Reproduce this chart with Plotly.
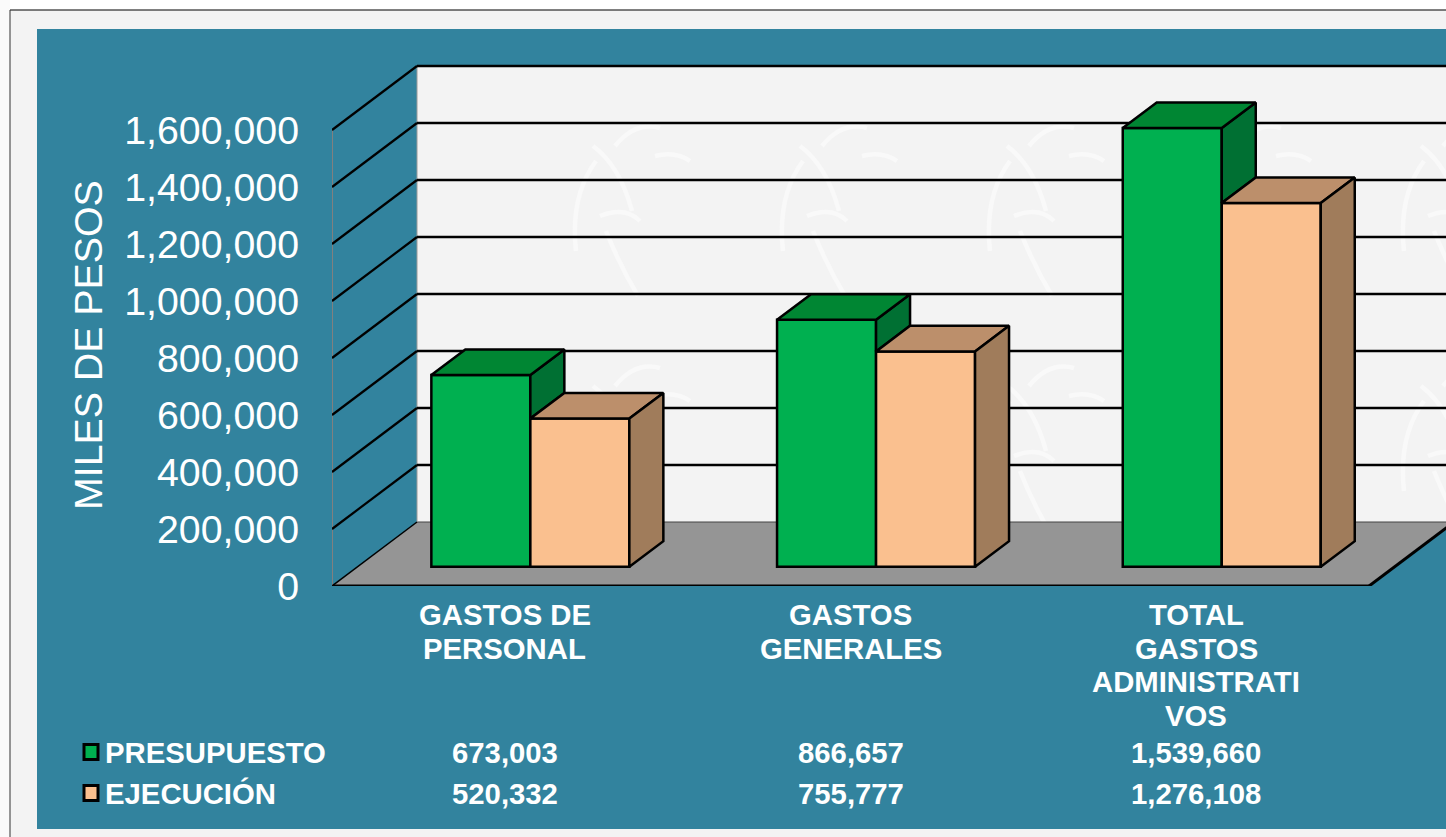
import plotly.graph_objects as go

categories = [["GASTOS DE", "PERSONAL"], ["GASTOS", "GENERALES"], ["TOTAL", "GASTOS", "ADMINISTRATI", "VOS"]]
series_names = ["PRESUPUESTO", "EJECUCIÓN"]
presupuesto = [673003, 866657, 1539660]
ejecucion = [520332, 755777, 1276108]
y_ticks = [0, 200000, 400000, 600000, 800000, 1000000, 1200000, 1400000, 1600000]

FONT = "Liberation Sans"
TEAL = "#32839E"
BG = "#F3F3F3"
W, H = 1446, 837
L, T, B0 = 332, 60, 586
PX_U = 345.7
PX_V = 57 / 200000
DX = 85 / PX_U
DY = 64 / PX_V
D0, D1 = 0.30, 0.70
BAR_W = 99 / PX_U
MOTIF_X = [560, 767, 974, 1181, 1388]
MOTIF_Y = [96, 336]
MOTIF = [
    [(33, 50), (60, 70), (72, 115)],
    [(55, 50), (75, 25), (100, 32)],
    [(16, 155), (10, 100), (36, 65)],
    [(40, 120), (65, 110), (80, 125)],
    [(46, 135), (60, 170), (78, 200)],
    [(95, 60), (115, 55), (130, 65)],
]


def px(p):
    return (p - L) / (W - L)


def py(p):
    return (B0 - p) / (B0 - T)


def ax(p):
    return (p - L) / PX_U


def ay(p):
    return (B0 - p) / PX_V


def pt(u, v, d):
    return u + d * DX, v + d * DY


def rect(x0, y0, x1, y1, fill, line=None, lw=0):
    return dict(type="rect", xref="paper", yref="paper", x0=px(x0), x1=px(x1), y0=py(y0), y1=py(y1),
                fillcolor=fill, line=dict(color=line or fill, width=lw), layer="below")


def poly(points, fill, line="black", lw=2.5):
    xs = [p[0] for p in points] + [points[0][0]]
    ys = [p[1] for p in points] + [points[0][1]]
    return go.Scatter(x=xs, y=ys, mode="lines", fill="toself", fillcolor=fill,
                      line=dict(color=line, width=lw), hoverinfo="skip", showlegend=False)


n = len(categories)
shapes = [
    rect(0, 0, W, 10, "white"),
    rect(0, 0, 10, H, "#FAFAFA"),
    dict(type="line", xref="paper", yref="paper", x0=px(10), x1=px(W), y0=py(10), y1=py(10),
         line=dict(color="black", width=1), layer="below"),
    dict(type="line", xref="paper", yref="paper", x0=px(10), x1=px(10), y0=py(10), y1=py(H),
         line=dict(color="#333333", width=1), layer="below"),
    rect(37, 29, W, 829, TEAL),
]

# back wall
wx0, wy0 = pt(0, 0, 1)
wx1, wy1 = pt(n * 1.0, y_ticks[-1], 1)
shapes.append(dict(type="rect", xref="x", yref="y", x0=wx0, x1=wx1, y0=wy0, y1=wy1, fillcolor=BG,
                   line=dict(width=0), layer="below"))

# faint motif on the wall
for ox in MOTIF_X:
    for oy in MOTIF_Y:
        path = " ".join(
            f"M {ax(ox+a[0])} {ay(oy+a[1])} Q {ax(ox+b[0])} {ay(oy+b[1])} {ax(ox+c[0])} {ay(oy+c[1])}"
            for a, b, c in MOTIF)
        shapes.append(dict(type="path", xref="x", yref="y", path=path,
                           line=dict(color="#F9F9F9", width=4.5), layer="below"))

# floor
fx = [pt(0, 0, 0), pt(n, 0, 0), pt(n, 0, 1), pt(0, 0, 1)]
floor_path = "M " + " L ".join(f"{x} {y}" for x, y in fx) + " Z"
shapes.append(dict(type="path", xref="x", yref="y", path=floor_path, fillcolor="#959595", line=dict(width=0), layer="below"))
shapes.append(dict(type="line", xref="x", yref="y", x0=fx[3][0], y0=fx[3][1], x1=fx[2][0], y1=fx[2][1],
                   line=dict(color="#444444", width=1), layer="below"))
shapes.append(dict(type="line", xref="x", yref="y", x0=fx[0][0], y0=fx[0][1], x1=fx[1][0], y1=fx[1][1],
                   line=dict(color="black", width=3), layer="below"))
shapes.append(dict(type="line", xref="x", yref="y", x0=fx[1][0], y0=fx[1][1], x1=fx[2][0], y1=fx[2][1],
                   line=dict(color="black", width=3), layer="below"))

# left wall edge lines and grid
shapes.append(dict(type="line", xref="x", yref="y", x0=0, x1=0, y0=0, y1=y_ticks[-1],
                   line=dict(color="#808080", width=2), layer="below"))
shapes.append(dict(type="line", xref="x", yref="y", x0=wx0, x1=wx0, y0=wy0, y1=wy1,
                   line=dict(color="#9A9A9A", width=1), layer="below"))
for v in y_ticks:
    bx, by = pt(0, v, 1)
    shapes.append(dict(type="line", xref="x", yref="y", x0=0, y0=v, x1=bx, y1=by,
                       line=dict(color="black", width=2.2 if v else 1.5), layer="below"))
    if v:
        shapes.append(dict(type="line", xref="x", yref="y", x0=bx, y0=by, x1=pt(n, v, 1)[0], y1=by,
                           line=dict(color="black", width=2.5), layer="below"))

fig = go.Figure()
colors = [
    dict(front="#00B050", top="#008633", side="#007033"),
    dict(front="#FAC08F", top="#BC8F6B", side="#A07C5B"),
]
series = [presupuesto, ejecucion]
base_v = D0 * DY
for s, (vals, c) in enumerate(zip(series, colors)):
    xs = [i + 0.5 + D0 * DX + (s - 0.5) * BAR_W for i in range(n)]
    fig.add_trace(go.Bar(x=xs, y=vals, base=[base_v] * n, width=BAR_W, name=series_names[s],
                         marker=dict(color=c["front"], line=dict(color="black", width=2.5)),
                         hoverinfo="skip", showlegend=False))

for i in range(n):
    x_mid = i + 0.5
    ul, um, ur = x_mid - BAR_W, x_mid, x_mid + BAR_W
    v1, v2 = presupuesto[i], ejecucion[i]
    # green side, only the part above the orange bar
    fig.add_trace(poly([pt(um, v1, D0), pt(um, v1, D1), pt(um, v2, D1), pt(um, v2, D0)], colors[0]["side"]))
    fig.add_trace(poly([pt(ul, v1, D0), pt(um, v1, D0), pt(um, v1, D1), pt(ul, v1, D1)], colors[0]["top"]))
    fig.add_trace(poly([pt(um, v2, D0), pt(ur, v2, D0), pt(ur, v2, D1), pt(um, v2, D1)], colors[1]["top"]))
    fig.add_trace(poly([pt(ur, v2, D0), pt(ur, v2, D1), pt(ur, 0, D1), pt(ur, 0, D0)], colors[1]["side"]))

annotations = [dict(text="MILES DE PESOS", textangle=-90, xref="paper", yref="paper", x=px(88), y=py(345),
                    xanchor="center", yanchor="middle",
                    showarrow=False, font=dict(family=FONT, size=39.3, color="white"))]
line_y = [614, 648, 681, 715]
for i, lines in enumerate(categories):
    for j, t in enumerate(lines):
        annotations.append(dict(text=t, xref="x", yref="paper", x=i + 0.5, y=py(line_y[j]), showarrow=False,
                                xanchor="center", yanchor="middle",
                                font=dict(family=FONT, size=29.3, color="white")))
row_y = [752, 793]
for s, vals in enumerate(series):
    annotations.append(dict(text=series_names[s], xref="paper", yref="paper", x=px(102.5), xanchor="left",
                            y=py(row_y[s]), yanchor="middle",
                            showarrow=False, font=dict(family=FONT, size=29.3, color="white")))
    for i, v in enumerate(vals):
        annotations.append(dict(text=f"{v:,}", xref="x", yref="paper", x=i + 0.5, y=py(row_y[s]), showarrow=False,
                                xanchor="center", yanchor="middle",
                                font=dict(family=FONT, size=29.3, color="white")))
    shapes.append(rect(84, row_y[s] - 7.5, 98, row_y[s] + 7.5, colors[s]["front"], "black", 3))

for a in annotations[1:]:
    a["text"] = f"<b>{a['text']}</b>"

fig.update_layout(
    width=W, height=H, barmode="overlay", showlegend=False,
    margin=dict(l=L, r=0, t=T, b=H - B0, pad=0),
    paper_bgcolor=BG, plot_bgcolor="rgba(0,0,0,0)",
    shapes=shapes, annotations=annotations,
    xaxis=dict(range=[0, (W - L) / PX_U], showgrid=False, zeroline=False, showticklabels=False, ticks="", showline=False),
    yaxis=dict(range=[0, (B0 - T) / PX_V], tickvals=y_ticks, tickformat=",d", ticks="", showgrid=False, zeroline=False,
               showline=False, tickfont=dict(family=FONT, size=39.3, color="white"), ticklabelstandoff=32),
)
fig.write_html("out.html", config=dict(displayModeBar=False),
               post_script="document.body.style.margin='0';document.documentElement.style.overflow='hidden';")
